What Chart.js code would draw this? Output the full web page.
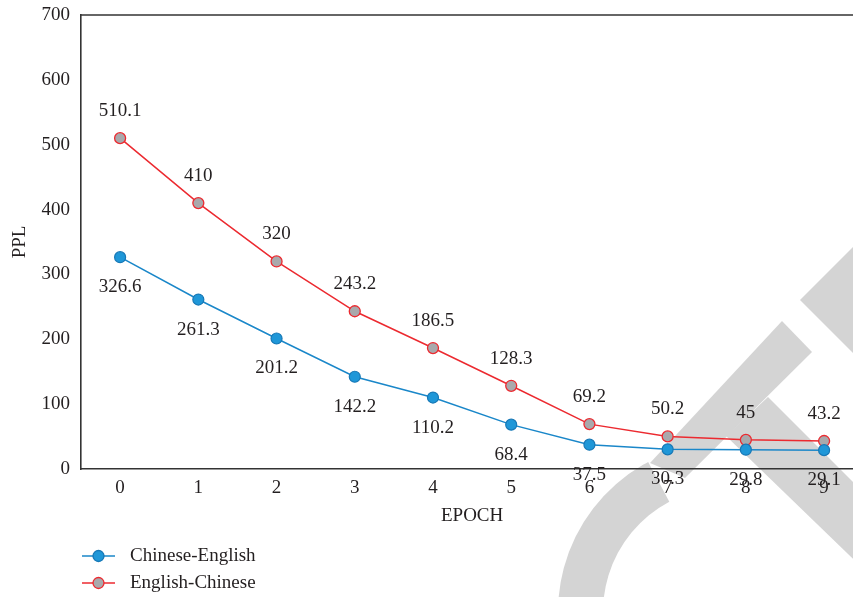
<!DOCTYPE html>
<html>
<head>
<meta charset="utf-8">
<script src="https://cdn.jsdelivr.net/npm/chart.js@4/dist/chart.umd.min.js"></script>
<style>
  html, body { margin: 0; padding: 0; background: #ffffff; overflow: hidden; }
  #wrap { position: absolute; left: 0; top: 0; width: 870px; height: 597px; }
</style>
</head>
<body>
<div id="wrap"><canvas id="c" width="870" height="597"></canvas></div>
<script>
// Training epochs and perplexity per translation direction
const epochs = ['0', '1', '2', '3', '4', '5', '6', '7', '8', '9'];
const chineseEnglish = [326.6, 261.3, 201.2, 142.2, 110.2, 68.4, 37.5, 30.3, 29.8, 29.1];
const englishChinese = [510.1, 410, 320, 243.2, 186.5, 128.3, 69.2, 50.2, 45, 43.2];
const seriesNames = ['Chinese-English', 'English-Chinese'];
const yTicks = [0, 100, 200, 300, 400, 500, 600, 700];

const FONT = "'Liberation Serif', 'DejaVu Serif', serif";
const FS = 19;
const TEXT = '#231f20';
const AXIS = '#333333';

// white page plus the pale grey logo shape behind the plot
const backdrop = {
  id: 'backdrop',
  beforeDraw(chart) {
    const ctx = chart.ctx;
    ctx.save();
    ctx.fillStyle = '#ffffff';
    ctx.fillRect(0, 0, chart.width, chart.height);
    ctx.fillStyle = '#d4d4d4';
    const poly = pts => {
      ctx.beginPath();
      ctx.moveTo(pts[0][0], pts[0][1]);
      for (let i = 1; i < pts.length; i++) ctx.lineTo(pts[i][0], pts[i][1]);
      ctx.closePath();
      ctx.fill();
    };
    poly([[650, 463], [782, 321], [812, 352], [685, 478]]);
    poly([[768, 397], [875, 504], [875, 580], [726, 436]]);
    poly([[800, 300], [860, 240], [875, 255], [875, 375]]);
    const cx = 728, cy = 612;
    const a0 = 150 * Math.PI / 180, a1 = 242 * Math.PI / 180;
    ctx.beginPath();
    ctx.arc(cx, cy, 170, a0, a1, false);
    ctx.arc(cx, cy, 125, a1, a0, true);
    ctx.closePath();
    ctx.fill();
    ctx.restore();
  }
};

// top frame line of the plot area
const frame = {
  id: 'frame',
  afterDraw(chart) {
    const { ctx, chartArea } = chart;
    ctx.save();
    ctx.strokeStyle = AXIS;
    ctx.lineWidth = 1.6;
    ctx.beginPath();
    ctx.moveTo(chartArea.left, chartArea.top);
    ctx.lineTo(chart.width, chartArea.top);
    ctx.stroke();
    ctx.restore();
  }
};

// value labels: above the red series, below the blue series
const valueLabels = {
  id: 'valueLabels',
  afterDatasetsDraw(chart) {
    const ctx = chart.ctx;
    ctx.save();
    ctx.font = FS + 'px ' + FONT;
    ctx.fillStyle = TEXT;
    ctx.textAlign = 'center';
    ctx.textBaseline = 'middle';
    chart.data.datasets.forEach((ds, di) => {
      const meta = chart.getDatasetMeta(di);
      const dy = ds.labelOffset;
      meta.data.forEach((pt, i) => {
        ctx.fillText(String(ds.data[i]), pt.x, pt.y + dy);
      });
    });
    ctx.restore();
  }
};

// legend: line with a marker, stacked in two rows at the bottom left
const lineLegend = {
  id: 'lineLegend',
  afterDraw(chart) {
    const ctx = chart.ctx;
    ctx.save();
    const rows = [556, 583];
    chart.data.datasets.forEach((ds, di) => {
      const y = rows[di];
      ctx.strokeStyle = ds.borderColor;
      ctx.lineWidth = 1.5;
      ctx.beginPath();
      ctx.moveTo(82, y);
      ctx.lineTo(115, y);
      ctx.stroke();
      ctx.beginPath();
      ctx.arc(98.5, y, 5.5, 0, Math.PI * 2);
      ctx.fillStyle = ds.pointBackgroundColor;
      ctx.fill();
      ctx.lineWidth = 1.3;
      ctx.strokeStyle = ds.pointBorderColor;
      ctx.stroke();
      ctx.font = FS + 'px ' + FONT;
      ctx.fillStyle = TEXT;
      ctx.textAlign = 'left';
      ctx.textBaseline = 'middle';
      ctx.fillText(ds.label, 130, y);
    });
    ctx.restore();
  }
};

new Chart(document.getElementById('c'), {
  type: 'line',
  data: {
    labels: epochs,
    datasets: [
      {
        label: seriesNames[0],
        data: chineseEnglish,
        borderColor: '#1a87c9',
        borderWidth: 1.5,
        pointBackgroundColor: '#1f97d8',
        pointBorderColor: '#1778b6',
        pointBorderWidth: 1.2,
        pointRadius: 5.5,
        tension: 0,
        labelOffset: 30
      },
      {
        label: seriesNames[1],
        data: englishChinese,
        borderColor: '#ec2a30',
        borderWidth: 1.5,
        pointBackgroundColor: '#a9a9ac',
        pointBorderColor: '#ec2a30',
        pointBorderWidth: 1.3,
        pointRadius: 5.5,
        tension: 0,
        labelOffset: -27
      }
    ]
  },
  options: {
    responsive: false,
    animation: false,
    events: [],
    layout: { padding: { top: 15, right: 6, bottom: 68, left: 0 } },
    plugins: {
      legend: { display: false },
      tooltip: { enabled: false }
    },
    scales: {
      x: {
        type: 'category',
        offset: true,
        grid: { display: false, drawTicks: false },
        border: { display: true, color: AXIS, width: 1.6 },
        ticks: { color: TEXT, font: { family: FONT, size: FS }, padding: 8, maxRotation: 0 },
        title: { display: true, text: 'EPOCH', color: TEXT, font: { family: FONT, size: FS }, padding: { top: 0, bottom: 2 } },
        afterFit(scale) { scale.height = 60; scale.paddingLeft = 0; scale.paddingRight = 0; }
      },
      y: {
        min: 0,
        max: 700,
        afterBuildTicks(scale) { scale.ticks = yTicks.map(v => ({ value: v })); },
        grid: { display: false, drawTicks: false },
        border: { display: true, color: AXIS, width: 1.6 },
        ticks: { color: TEXT, font: { family: FONT, size: FS }, padding: 11 },
        title: { display: true, text: 'PPL', color: TEXT, font: { family: FONT, size: FS }, padding: { top: 9, bottom: 0 } },
        afterFit(scale) { scale.width = 81; scale.paddingTop = 0; scale.paddingBottom = 0; }
      }
    }
  },
  plugins: [backdrop, frame, valueLabels, lineLegend]
});
</script>
</body>
</html>
